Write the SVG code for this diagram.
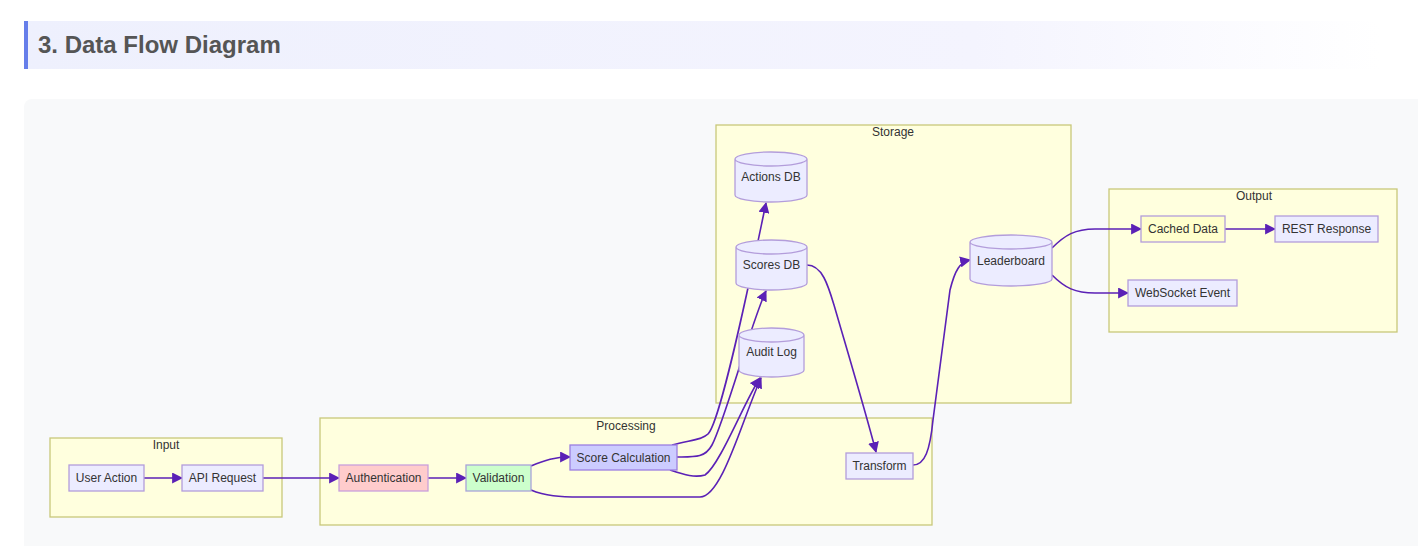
<svg xmlns="http://www.w3.org/2000/svg" width="1418" height="546" viewBox="0 0 1418 546">
<defs>
<linearGradient id="hdr" x1="0" y1="0" x2="1" y2="0">
<stop offset="0" stop-color="#eef0fd"/>
<stop offset="0.7" stop-color="#f4f4fe"/>
<stop offset="1" stop-color="#ffffff"/>
</linearGradient>
<marker id="arr" viewBox="0 0 10 10" refX="9" refY="5" markerWidth="11" markerHeight="11" markerUnits="userSpaceOnUse" orient="auto">
<path d="M0,0 L10,5 L0,10 z" fill="#5b21b6"/>
</marker>
<style>
.cl{fill:#ffffde;stroke:#c8c87a;stroke-width:1.3}
.cll{font-family:"Liberation Sans",Arial,sans-serif;font-size:12px;fill:#333;text-anchor:middle}
.nd{fill:#ececff;stroke:#b39ddb;stroke-width:1.3}
.t{font-family:"Liberation Sans",Arial,sans-serif;font-size:12px;fill:#333;text-anchor:middle;dominant-baseline:central}
.e{fill:none;stroke:#5b21b6;stroke-width:1.6;marker-end:url(#arr)}
</style>
</defs>
<rect x="0" y="0" width="1418" height="546" fill="#ffffff"/>
<rect x="24" y="21" width="1356" height="48" fill="url(#hdr)"/>
<rect x="24" y="21" width="4" height="48" fill="#667eea"/>
<text x="38" y="53" font-family="Liberation Sans,Arial,sans-serif" font-size="24" font-weight="bold" fill="#555">3. Data Flow Diagram</text>
<rect x="24" y="99" width="1410" height="460" rx="8" fill="#f8f9fa"/>

<g id="cluster-input"><rect class="cl" x="50" y="438" width="232" height="79"/><text class="cll" x="166" y="449">Input</text></g>
<g id="cluster-processing"><rect class="cl" x="320" y="418" width="612" height="107"/><text class="cll" x="626" y="430">Processing</text></g>
<g id="cluster-storage"><rect class="cl" x="716" y="125" width="355" height="278"/><text class="cll" x="893" y="136">Storage</text></g>
<g id="cluster-output"><rect class="cl" x="1109" y="189" width="288" height="143"/><text class="cll" x="1254" y="200">Output</text></g>

<g id="connectors">
<path class="e" d="M144,478 L182,478"/>
<path class="e" d="M263,478 L339,478"/>
<path class="e" d="M428,478 L466,478"/>
<path class="e" d="M531,466 C545,460 555,457 570,457"/>
<path class="e" d="M531,490 C545,496 560,497 580,497 L700,497 C722,497 742,420 761,378"/>
<path class="e" d="M672,445 C690,440 702,440 708,434 C722,420 756,250 766,203"/>
<path class="e" d="M677,457 C695,457 705,458 712,445 C725,420 752,320 766,291"/>
<path class="e" d="M670,470 C685,475 695,478 705,475 C720,465 745,400 760,378"/>
<path class="e" d="M807,265 C822,265 828,285 834,305 C850,360 865,410 876,452"/>
<path class="e" d="M913,465 C925,465 930,450 933,420 L950,290 C955,270 960,262 970,260"/>
<path class="e" d="M1052,248 C1065,235 1075,229 1095,229 L1141,229"/>
<path class="e" d="M1052,275 C1065,288 1075,293 1095,293 L1128,293"/>
<path class="e" d="M1225,229 L1275,229"/>
</g>

<g id="user-action"><rect class="nd" x="69" y="465" width="75" height="26"/><text class="t" x="106.5" y="478">User Action</text></g>
<g id="api-request"><rect class="nd" x="182" y="465" width="81" height="26"/><text class="t" x="222.5" y="478">API Request</text></g>
<g id="authentication"><rect x="339" y="465" width="89" height="26" fill="#ffcccc" stroke="#c9a0dc" stroke-width="1.3"/><text class="t" x="383.5" y="478">Authentication</text></g>
<g id="validation"><rect x="466" y="465" width="65" height="26" fill="#ccffcc" stroke="#a9a3d9" stroke-width="1.3"/><text class="t" x="498.5" y="478">Validation</text></g>
<g id="score-calculation"><rect x="570" y="445" width="107" height="25" fill="#ccccff" stroke="#9b7fe0" stroke-width="1.3"/><text class="t" x="623.5" y="457.5">Score Calculation</text></g>
<g id="transform"><rect class="nd" x="846" y="453" width="67" height="26"/><text class="t" x="879.5" y="466">Transform</text></g>

<g id="actions-db"><path class="nd" d="M735,159 a36,7 0 0 0 72,0 a36,7 0 0 0 -72,0 l0,36 a36,7 0 0 0 72,0 l0,-36"/><text class="t" x="771" y="177">Actions DB</text></g>
<g id="scores-db"><path class="nd" d="M736,247 a35.5,7 0 0 0 71,0 a35.5,7 0 0 0 -71,0 l0,36 a35.5,7 0 0 0 71,0 l0,-36"/><text class="t" x="771.5" y="265">Scores DB</text></g>
<g id="audit-log"><path class="nd" d="M739,335 a32.5,7 0 0 0 65,0 a32.5,7 0 0 0 -65,0 l0,35 a32.5,7 0 0 0 65,0 l0,-35"/><text class="t" x="771.5" y="352">Audit Log</text></g>
<g id="leaderboard"><path class="nd" d="M970,242 a41,7 0 0 0 82,0 a41,7 0 0 0 -82,0 l0,37 a41,7 0 0 0 82,0 l0,-37"/><text class="t" x="1011" y="261">Leaderboard</text></g>

<g id="cached-data"><rect x="1141" y="216" width="84" height="26" fill="#ffffcc" stroke="#b39ddb" stroke-width="1.3"/><text class="t" x="1183" y="229">Cached Data</text></g>
<g id="rest-response"><rect class="nd" x="1275" y="216" width="103" height="26"/><text class="t" x="1326.5" y="229">REST Response</text></g>
<g id="websocket-event"><rect class="nd" x="1128" y="280" width="109" height="26"/><text class="t" x="1182.5" y="293">WebSocket Event</text></g>
</svg>
